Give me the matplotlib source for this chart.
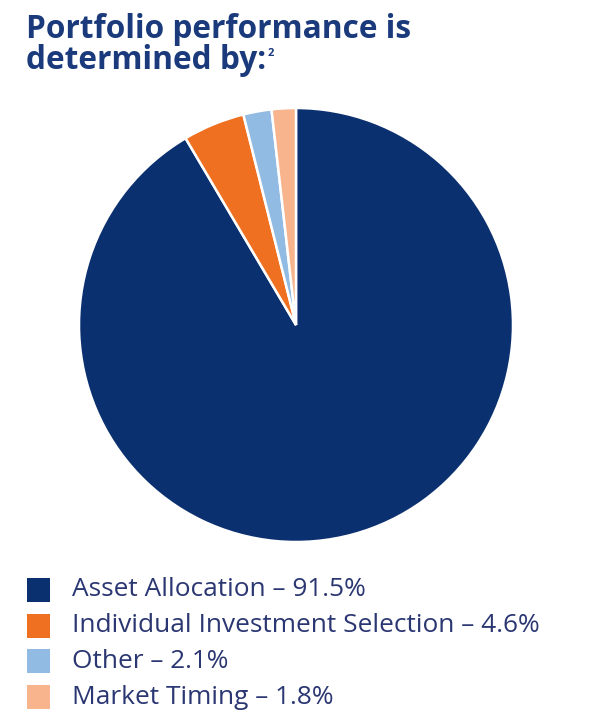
import matplotlib
matplotlib.use("Agg")
import matplotlib.pyplot as plt
from matplotlib.patches import Rectangle

categories = ["Asset Allocation", "Individual Investment Selection", "Other", "Market Timing"]
values = [91.5, 4.6, 2.1, 1.8]
colors = ["#0b3070", "#f07022", "#92bbe3", "#f8b48c"]

W, H = 594, 721
fig = plt.figure(figsize=(W / 100, H / 100), dpi=100)
fig.patch.set_facecolor("white")

# Title
title_color = "#1a3a7c"
fig.text(26 / W, 1 - 38 / H, "Portfolio performance is", fontsize=22.8, fontweight="bold",
         family="Open Sans", color=title_color, ha="left", va="baseline")
t2 = fig.text(26 / W, 1 - 69 / H, "determined by:", fontsize=22.8, fontweight="bold",
              family="Open Sans", color=title_color, ha="left", va="baseline")
fig.canvas.draw()
bb = t2.get_window_extent()
fig.text((bb.x1 + 1) / W, 1 - 56 / H, "2", fontsize=8, fontweight="bold",
         family="Open Sans", color=title_color, ha="left", va="baseline")

# Pie
cx, cy, r = 296, 325, 217
ax = fig.add_axes([(cx - r) / W, (H - cy - r) / H, 2 * r / W, 2 * r / H])
ax.pie(values, colors=colors, startangle=90, counterclock=False, radius=1,
       wedgeprops=dict(edgecolor="white", linewidth=1.8))
ax.set_xlim(-1, 1)
ax.set_ylim(-1, 1)
ax.set_aspect("equal")
ax.axis("off")

# Legend
row_y = [590, 626, 661, 697]
text_color = "#2b3772"
for cat, val, col, y in zip(categories, values, colors, row_y):
    fig.patches.append(Rectangle(((27) / W, (H - y - 12) / H), 23 / W, 24 / H,
                                 transform=fig.transFigure, facecolor=col, edgecolor="none"))
    fig.text(72 / W, (H - y) / H, f"{cat} \u2013 {val}%", fontsize=18.9, family="Open Sans",
             color=text_color, ha="left", va="center")

fig.savefig("out.png", dpi=100)
